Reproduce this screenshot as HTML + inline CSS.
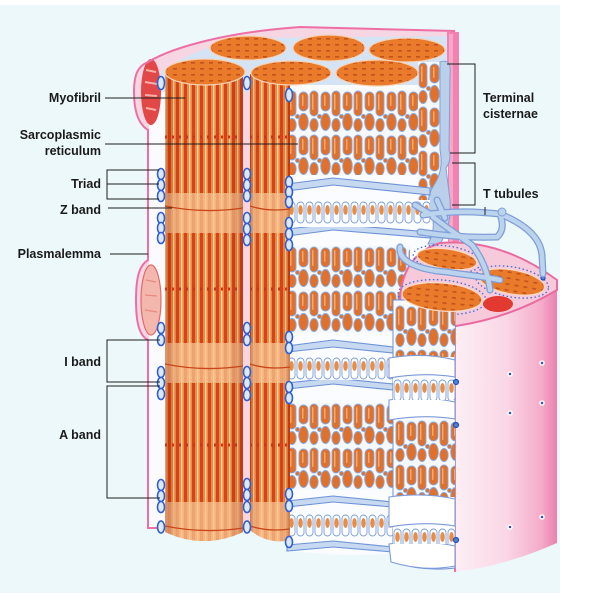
<!DOCTYPE html>
<html><head><meta charset="utf-8">
<style>html,body{margin:0;padding:0;background:#fff}svg{display:block}</style></head>
<body>
<svg width="600" height="600" viewBox="0 0 600 600" xmlns="http://www.w3.org/2000/svg">
<defs>
 <pattern id="str" width="8" height="20" patternUnits="userSpaceOnUse">
  <rect width="8" height="20" fill="#ef8a3a"/>
  <rect width="3" height="20" fill="#d6431b"/>
  <rect x="5" width="1.3" height="20" fill="#fcdcb8"/>
 </pattern>
 <pattern id="dk" width="9" height="6" patternUnits="userSpaceOnUse">
  <rect width="9" height="6" fill="#e97b2b"/>
  <rect x="2" y="2" width="4" height="1.6" fill="#c2521d"/>
 </pattern>
 <pattern id="fen" width="22" height="44" patternUnits="userSpaceOnUse">
  <rect width="22" height="44" fill="#f5f8fd"/>
  <g fill="#e0702a" stroke="#88a9de" stroke-width="0.9">
   <rect x="1" y="1" width="8" height="25" rx="4"/>
   <rect x="12" y="2" width="9" height="19" rx="4.5"/>
   <ellipse cx="16.5" cy="32" rx="4.8" ry="8.5"/>
   <ellipse cx="5" cy="35" rx="4.2" ry="6.5"/>
   <circle cx="10.5" cy="26.5" r="2"/>
  </g>
  <g fill="#f3a96a">
   <rect x="3" y="4" width="1.5" height="16" rx="0.7"/>
   <rect x="15" y="5" width="1.5" height="11" rx="0.7"/>
  </g>
 </pattern>
 <pattern id="blob" width="9" height="26" patternUnits="userSpaceOnUse">
  <rect width="9" height="26" fill="#fbfdff"/>
  <rect x="1" y="2" width="7" height="21" rx="3.5" fill="#fff" stroke="#7b9edb" stroke-width="0.9"/>
  <ellipse cx="4.5" cy="10" rx="2.3" ry="5" fill="#e98c44"/>
 </pattern>
 <linearGradient id="colsh" x1="0" x2="1" y1="0" y2="0">
  <stop offset="0" stop-color="#8a2000" stop-opacity="0.3"/>
  <stop offset="0.18" stop-color="#8a2000" stop-opacity="0"/>
  <stop offset="0.8" stop-color="#8a2000" stop-opacity="0"/>
  <stop offset="1" stop-color="#8a2000" stop-opacity="0.3"/>
 </linearGradient>
 <linearGradient id="pinkb" x1="0" x2="1" y1="0" y2="0">
  <stop offset="0" stop-color="#fdeef4"/>
  <stop offset="0.5" stop-color="#fad7e6"/>
  <stop offset="0.85" stop-color="#f4abc9"/>
  <stop offset="1" stop-color="#ea80ad"/>
 </linearGradient>
 <clipPath id="c1"><path d="M165 74 L165 532 Q204 550 243 532 L243 74 Z"/></clipPath>
 <clipPath id="c2"><path d="M250 74 L250 530 Q268 545 290 540 L290 74 Z"/></clipPath>
</defs>

<!-- background -->
<rect width="600" height="600" fill="#ffffff"/>
<rect x="0" y="5" width="560" height="588" fill="#edf8fb"/>

<!-- fiber body -->
<path d="M148 528 L148 340 C140 336 136 325 136 300 C136 275 140 265 148 260 L148 130 C138 124 134 110 134 92 C134 74 138 66 148 62 C175 46 230 32 300 27 L455 31 L459 33 L459 250 L395 300 L395 530 L165 530 Z" fill="#f6d6e3"/>
<rect x="149" y="88" width="20" height="440" fill="#fbfbfd"/>
<path d="M160 72 Q200 45 250 38 L452 36 L452 92 L160 92 Z" fill="#d5e4f5"/>
<rect x="447" y="32" width="12" height="215" fill="#f283b0"/>
<rect x="449" y="34" width="4" height="210" fill="#f6a8c8"/>

<!-- mitochondria -->
<ellipse cx="151" cy="92" rx="10" ry="33" fill="#e24848"/>
<path d="M146 70 L156 72 M145 82 L157 84 M145 95 L157 96 M146 108 L156 110" stroke="#f7b0a8" stroke-width="2"/>
<ellipse cx="151" cy="300" rx="10" ry="35" fill="#f3b7ad" stroke="#e06a6a" stroke-width="1.2"/>
<path d="M146 280 L156 282 M145 295 L157 296 M145 310 L157 312" stroke="#e88a80" stroke-width="1.2"/>

<!-- membrane line -->
<path d="M160 528 L148 528 L148 340 C140 336 136 325 136 300 C136 275 140 265 148 260 L148 130 C138 124 134 110 134 92 C134 74 138 66 148 62 C175 46 230 32 300 27 L455 31" fill="none" stroke="#ee6fa5" stroke-width="2"/>

<!-- back disks -->
<g stroke="#f6d2b6" stroke-width="1.2">
 <ellipse cx="248" cy="48" rx="38" ry="12" fill="url(#dk)"/>
 <ellipse cx="329" cy="48" rx="36" ry="13" fill="url(#dk)"/>
 <ellipse cx="407" cy="50" rx="38" ry="12" fill="url(#dk)"/>
</g>

<!-- SR main region base -->
<path d="M285 85 L448 85 L448 300 L395 300 L395 553 Q340 558 285 550 Z" fill="#fafcff"/>
<!-- fenestrated zones main -->
<g transform="translate(287,90)"><rect width="150" height="85" fill="url(#fen)"/></g>
<g transform="translate(418,62)"><rect width="26" height="150" fill="url(#fen)"/></g>
<g transform="translate(287,246)"><rect width="123" height="87" fill="url(#fen)"/></g>
<g transform="translate(287,403)"><rect width="108" height="87" fill="url(#fen)"/></g>
<!-- cisternae right -->
<path d="M440 62 Q452 58 450 75 L449 150 Q452 160 446 168 L450 200 Q452 225 440 244 L428 244 Q436 230 432 215 Q424 200 434 185 Q444 170 440 150 Z" fill="#b9cfea" stroke="#7f9fd8" stroke-width="1"/>
<!-- bands main -->
<g fill="#c6d9f1" stroke="#6d92d5" stroke-width="1.1">
 <path d="M287 184 L333 178 L430 188 L430 195 L333 185 L287 191 Z"/>
 <path d="M287 229 L333 224 L430 232 L430 238 L333 230 L287 236 Z"/>
 <path d="M287 346 L333 340 L393 347 L393 353 L333 347 L287 352 Z"/>
 <path d="M287 383 L333 378 L393 384 L393 390 L333 384 L287 389 Z"/>
 <path d="M287 501 L333 496 L393 502 L393 507 L333 502 L287 507 Z"/>
 <path d="M287 545 L333 541 L393 547 L393 552 L333 547 L287 551 Z"/>
</g>
<g transform="translate(287,200)"><rect width="143" height="27" fill="url(#blob)"/></g>
<g transform="translate(287,356)"><rect width="106" height="24" fill="url(#blob)"/></g>
<g transform="translate(287,513)"><rect width="106" height="26" fill="url(#blob)"/></g>

<!-- columns -->
<path d="M165 74 L165 532 Q204 550 243 532 L243 74 Z" fill="url(#str)"/>
<path d="M250 74 L250 530 Q268 545 290 540 L290 74 Z" fill="url(#str)"/>
<g clip-path="url(#c1)" fill="#f7c391" opacity="0.75">
 <rect x="165" y="193" width="78" height="40"/>
 <rect x="165" y="343" width="78" height="40"/>
 <rect x="165" y="502" width="78" height="50"/>
</g>
<g clip-path="url(#c2)" fill="#f7c391" opacity="0.75">
 <rect x="250" y="193" width="40" height="40"/>
 <rect x="250" y="343" width="40" height="40"/>
 <rect x="250" y="502" width="40" height="50"/>
</g>
<path d="M165 74 L165 532 Q204 550 243 532 L243 74 Z" fill="url(#colsh)"/>
<path d="M250 74 L250 530 Q268 545 290 540 L290 74 Z" fill="url(#colsh)"/>
<g fill="none" stroke="#c8461a" stroke-width="1.3">
 <path d="M165 206 Q204 214 243 208"/><path d="M250 206 Q268 212 290 209"/>
 <path d="M165 364 Q204 372 243 366"/><path d="M250 364 Q268 370 290 367"/>
 <path d="M165 526 Q204 534 243 528"/><path d="M250 526 Q268 532 290 529"/>
</g>
<g stroke="#c8361a" stroke-width="3" stroke-dasharray="2 5">
 <line x1="165" y1="137" x2="243" y2="137"/><line x1="250" y1="137" x2="290" y2="137"/>
 <line x1="165" y1="289" x2="243" y2="289"/><line x1="250" y1="289" x2="290" y2="289"/>
 <line x1="165" y1="445" x2="243" y2="445"/><line x1="250" y1="445" x2="290" y2="445"/>
</g>

<!-- front disks -->
<g stroke="#f6d2b6" stroke-width="1.2">
 <ellipse cx="205" cy="72" rx="40" ry="13" fill="url(#dk)"/>
 <ellipse cx="291" cy="73" rx="40" ry="12" fill="url(#dk)"/>
 <ellipse cx="377" cy="73" rx="41" ry="13" fill="url(#dk)"/>
</g>

<!-- pink cylinder body -->
<path d="M455 315 L455 572 Q505 566 557 543 L557 285 Z" fill="url(#pinkb)"/>
<line x1="455" y1="318" x2="455" y2="572" stroke="#e04a80" stroke-width="1.5"/>
<g fill="#2c4fa8" stroke="#ffffff" stroke-width="1.5">
 <circle cx="510" cy="374" r="2"/><circle cx="542" cy="363" r="2"/>
 <circle cx="510" cy="413" r="2"/><circle cx="542" cy="403" r="2"/>
 <circle cx="510" cy="527" r="2"/><circle cx="542" cy="517" r="2"/>
</g>

<!-- top face -->
<path d="M400 300 Q402 255 440 243 Q500 238 557 280 L557 290 Q510 318 456 326 Q420 320 400 300 Z" fill="#f7cadb" stroke="#ea6b9f" stroke-width="2"/>
<g fill="none" stroke="#3d6cd0" stroke-width="1.3" stroke-dasharray="1.5 2.5">
 <ellipse cx="447" cy="259" rx="34" ry="13" transform="rotate(8 447 259)"/>
 <ellipse cx="512" cy="282" rx="37" ry="15" transform="rotate(10 512 282)"/>
 <ellipse cx="442" cy="297" rx="44" ry="17" transform="rotate(5 442 297)"/>
</g>
<g stroke="#f8dcc4" stroke-width="1.2">
 <ellipse cx="447" cy="259" rx="30" ry="10" transform="rotate(8 447 259)" fill="url(#dk)"/>
 <ellipse cx="512" cy="282" rx="33" ry="12" transform="rotate(10 512 282)" fill="url(#dk)"/>
</g>
<ellipse cx="498" cy="304" rx="15" ry="8" fill="#e23a30"/>

<!-- small front cylinder -->
<path d="M393 300 L393 562 Q424 572 455 568 L455 300 Z" fill="#fafcff" stroke="#6f8fd3" stroke-width="1"/>
<g transform="translate(395,305)"><rect width="60" height="52" fill="url(#fen)"/></g>
<g transform="translate(395,420)"><rect width="60" height="77" fill="url(#fen)"/></g>
<g fill="#ffffff" stroke="#7d9ad8" stroke-width="1.1">
 <path d="M389 358 Q424 352 455 360 L455 377 Q424 372 389 378 Z"/>
 <path d="M389 400 Q424 395 455 402 L455 419 Q424 414 389 420 Z"/>
 <path d="M389 497 Q424 492 455 499 L455 526 Q424 521 389 527 Z"/>
 <path d="M389 544 Q424 539 455 546 L455 566 Q424 572 391 562 Z"/>
</g>
<g transform="translate(393,378)"><rect width="62" height="22" fill="url(#blob)"/></g>
<g transform="translate(393,527)"><rect width="62" height="17" fill="url(#blob)"/></g>
<ellipse cx="442" cy="297" rx="40" ry="14" transform="rotate(5 442 297)" fill="url(#dk)" stroke="#f8dcc4" stroke-width="1.2"/>
<g fill="#5080d8" stroke="#2050c0" stroke-width="1.2">
 <circle cx="456" cy="382" r="2.5"/><circle cx="456" cy="425" r="2.5"/><circle cx="456" cy="540" r="2.5"/>
 <circle cx="543" cy="278" r="2"/><circle cx="490" cy="290" r="2"/>
</g>

<!-- T tubules -->
<g fill="none" stroke-linecap="round">
 <g stroke="#7f9ed6" stroke-width="7">
  <path d="M423 215 C455 210 480 212 500 214 C520 222 540 235 542 255 L543 274"/>
  <path d="M420 232 C445 236 470 238 497 237 C505 230 502 220 500 214"/>
  <path d="M433 217 C450 230 462 238 472 245 C482 258 488 272 490 290"/>
  <path d="M400 247 C398 262 420 270 447 272 C465 275 480 276 500 280"/>
  <path d="M437 200 L445 218"/>
  <path d="M415 205 L430 214"/>
 </g>
 <g stroke="#bcd3ee" stroke-width="4.5">
  <path d="M423 215 C455 210 480 212 500 214 C520 222 540 235 542 255 L543 274"/>
  <path d="M420 232 C445 236 470 238 497 237 C505 230 502 220 500 214"/>
  <path d="M433 217 C450 230 462 238 472 245 C482 258 488 272 490 290"/>
  <path d="M400 247 C398 262 420 270 447 272 C465 275 480 276 500 280"/>
  <path d="M437 200 L445 218"/>
  <path d="M415 205 L430 214"/>
 </g>
 <circle cx="502" cy="212" r="4" fill="#bcd3ee" stroke="#7f9ed6" stroke-width="1"/>
</g>

<!-- triad ovals -->
<g fill="#dce8fb" stroke="#2f5fd0" stroke-width="1.6">
 <ellipse cx="161" cy="83" rx="3.5" ry="6.5"/>
 <ellipse cx="161" cy="174" rx="3.5" ry="5.5"/><ellipse cx="161" cy="185" rx="3.5" ry="5.5"/><ellipse cx="161" cy="196" rx="3.5" ry="5.5"/>
 <ellipse cx="161" cy="218" rx="3.5" ry="5.5"/><ellipse cx="161" cy="228" rx="3.5" ry="5.5"/><ellipse cx="161" cy="238" rx="3.5" ry="5.5"/>
 <ellipse cx="161" cy="328" rx="3.5" ry="5.5"/><ellipse cx="161" cy="340" rx="3.5" ry="5.5"/>
 <ellipse cx="161" cy="372" rx="3.5" ry="5.5"/><ellipse cx="161" cy="383" rx="3.5" ry="5.5"/><ellipse cx="161" cy="394" rx="3.5" ry="5.5"/>
 <ellipse cx="161" cy="485" rx="3.5" ry="5.5"/><ellipse cx="161" cy="496" rx="3.5" ry="5.5"/><ellipse cx="161" cy="507" rx="3.5" ry="5.5"/>
 <ellipse cx="161" cy="527" rx="3.5" ry="6"/>
 <ellipse cx="247" cy="83" rx="3.5" ry="6.5"/>
 <ellipse cx="247" cy="174" rx="3.5" ry="5.5"/><ellipse cx="247" cy="185" rx="3.5" ry="5.5"/><ellipse cx="247" cy="196" rx="3.5" ry="5.5"/>
 <ellipse cx="247" cy="218" rx="3.5" ry="5.5"/><ellipse cx="247" cy="229" rx="3.5" ry="5.5"/><ellipse cx="247" cy="240" rx="3.5" ry="5.5"/>
 <ellipse cx="247" cy="328" rx="3.5" ry="5.5"/><ellipse cx="247" cy="340" rx="3.5" ry="5.5"/>
 <ellipse cx="247" cy="372" rx="3.5" ry="5.5"/><ellipse cx="247" cy="383" rx="3.5" ry="5.5"/><ellipse cx="247" cy="395" rx="3.5" ry="5.5"/>
 <ellipse cx="247" cy="484" rx="3.5" ry="5.5"/><ellipse cx="247" cy="495" rx="3.5" ry="5.5"/><ellipse cx="247" cy="507" rx="3.5" ry="5.5"/>
 <ellipse cx="247" cy="527" rx="3.5" ry="6"/>
 <ellipse cx="289" cy="95" rx="3.5" ry="6.5"/>
 <ellipse cx="289" cy="182" rx="3.5" ry="5.5"/><ellipse cx="289" cy="192" rx="3.5" ry="5.5"/><ellipse cx="289" cy="202" rx="3.5" ry="5.5"/>
 <ellipse cx="289" cy="223" rx="3.5" ry="5.5"/><ellipse cx="289" cy="234" rx="3.5" ry="5.5"/><ellipse cx="289" cy="245" rx="3.5" ry="5.5"/>
 <ellipse cx="289" cy="337" rx="3.5" ry="5.5"/><ellipse cx="289" cy="348" rx="3.5" ry="5.5"/>
 <ellipse cx="289" cy="387" rx="3.5" ry="5.5"/><ellipse cx="289" cy="398" rx="3.5" ry="5.5"/>
 <ellipse cx="289" cy="494" rx="3.5" ry="5.5"/><ellipse cx="289" cy="506" rx="3.5" ry="5.5"/>
 <ellipse cx="289" cy="542" rx="3.5" ry="5.5"/>
</g>

<!-- leader lines -->
<g fill="none" stroke="#1e1e1e" stroke-width="1">
 <path d="M105 98 H185"/>
 <path d="M105 144 H298"/>
 <path d="M159 170 H107 V199 H159 M107 184 H159"/>
 <path d="M108 208 H172"/>
 <path d="M110 254 H148"/>
 <path d="M160 340 H107 V382 H160"/>
 <path d="M160 386 H107 V498 H160"/>
 <path d="M447 64 H475 V153 H450"/>
 <path d="M452 163 H475 V205 H452"/>
 <path d="M485 207 V215"/>
</g>

<!-- labels -->
<g font-family="'Liberation Sans', Arial, sans-serif" font-weight="bold" font-size="12.5" fill="#1a1a1a">
 <text x="101" y="102" text-anchor="end">Myofibril</text>
 <text x="101" y="139" text-anchor="end">Sarcoplasmic</text>
 <text x="101" y="155" text-anchor="end">reticulum</text>
 <text x="101" y="188" text-anchor="end">Triad</text>
 <text x="101" y="214" text-anchor="end">Z band</text>
 <text x="101" y="258" text-anchor="end">Plasmalemma</text>
 <text x="101" y="366" text-anchor="end">I band</text>
 <text x="101" y="439" text-anchor="end">A band</text>
 <text x="483" y="102">Terminal</text>
 <text x="483" y="118">cisternae</text>
 <text x="483" y="198">T tubules</text>
</g>
</svg>
</body></html>
